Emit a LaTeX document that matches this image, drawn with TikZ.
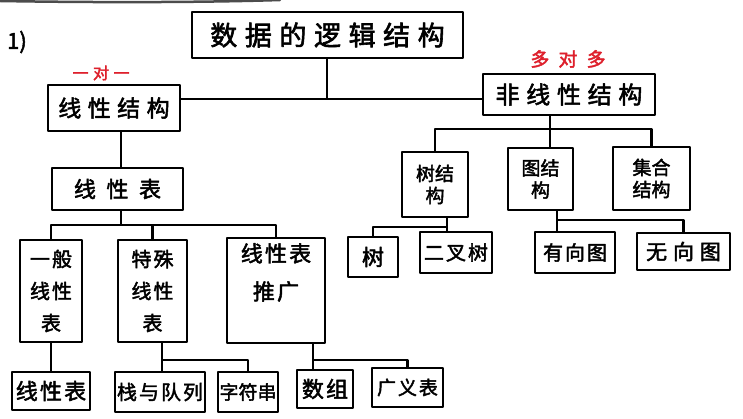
\documentclass[tikz,border=0pt]{standalone}
\usepackage{fontspec}
\newfontfamily\cjk[FakeBold=2.2]{Noto Sans CJK SC}
\newfontfamily\cjks[FakeBold=2.2,LetterSpace=10]{Noto Sans CJK SC}
\newfontfamily\cjkm[FakeBold=2.2,LetterSpace=28]{Noto Sans CJK SC}
\newfontfamily\cjkl[FakeBold=2.2,LetterSpace=48]{Noto Sans CJK SC}
\definecolor{penred}{RGB}{222,32,44}
\newcommand\fs[2]{\fontsize{#1}{#2}\selectfont}
\tikzset{
  every picture/.style={x=1pt,y=-1pt},
  box/.style={draw=black, line width=2.3pt, inner sep=0pt, align=center,
              line join=round, text=black},
  conn/.style={draw=black, line width=2.3pt, line join=round},
  note/.style={text=penred, inner sep=0pt},
}
\begin{document}
\begin{tikzpicture}
\useasboundingbox (0,0) rectangle (743,419);
\fill[white] (0,0) rectangle (743,419);
% page edge shadow along the top
\draw[black!70, line width=2.5pt, line cap=round] (0,1) .. controls (120,3) and (220,2) .. (280,0);

% item number
\node[inner sep=0pt, font=\cjk\fs{22}{22}] (num) at (17,42) {1)};

% root
\node[box, minimum width=271pt, minimum height=46pt, font=\cjkm\fs{27}{27}] (root) at (327.5,35) {数据的逻辑结构};

% first level
\node[box, minimum width=132pt, minimum height=46pt, font=\cjkm\fs{23}{23}] (lin) at (114,108) {线性结构};
\node[box, minimum width=172pt, minimum height=41pt, font=\cjkm\fs{24}{24}] (nonlin) at (569,94.5) {非线性结构};
\node[note, font=\cjkm\fs{16}{16}] (linnote) at (101,73) {一对一};
\node[note, font=\cjkl\fs{19}{19}] (nonlinnote) at (568,59) {多对多};

% linear branch
\node[box, minimum width=131pt, minimum height=42pt, font=\cjkl\fs{22}{22}] (list) at (117.5,189) {线性表};
\node[box, minimum width=62pt, minimum height=102pt, font=\cjks\fs{20}{32}] (general) at (51,291) {一般\\线性\\表};
\node[box, minimum width=69pt, minimum height=102pt, font=\cjks\fs{20}{32}] (special) at (152.5,291) {特殊\\线性\\表};
\node[box, minimum width=98pt, minimum height=105pt, font=\cjks\fs{22}{38}] (ext) at (276,290.5) {线性表\\推广\\\mbox{}};

\node[box, minimum width=78pt, minimum height=38pt, font=\cjks\fs{22}{22}] (leaf) at (51,391) {线性表};
\node[box, minimum width=90pt, minimum height=40pt, font=\cjks\fs{20}{20}] (stack) at (160,392) {栈与队列};
\node[box, minimum width=60pt, minimum height=40pt, font=\cjk\fs{19}{19}] (string) at (248,392) {字符串};
\node[box, minimum width=56pt, minimum height=38pt, font=\cjks\fs{22}{22}] (array) at (325,389) {数组};
\node[box, minimum width=71pt, minimum height=39pt, font=\cjks\fs{19}{19}] (glist) at (407.5,387.5) {广义表};

% non-linear branch
\node[box, minimum width=66pt, minimum height=65pt, font=\cjk\fs{19}{22}] (tree) at (435,184.5) {树结\\构};
\node[box, minimum width=65pt, minimum height=62pt, font=\cjk\fs{19}{22}] (graph) at (540.5,179) {图结\\构};
\node[box, minimum width=77pt, minimum height=63pt, font=\cjk\fs{19}{22}] (set) at (651.5,178.5) {集合\\结构};

\node[box, minimum width=50pt, minimum height=40pt, font=\cjk\fs{22}{22}] (t1) at (373,257) {树};
\node[box, minimum width=72pt, minimum height=41pt, font=\cjks\fs{20}{20}] (t2) at (456,252.5) {二叉树};
\node[box, minimum width=80pt, minimum height=41pt, font=\cjks\fs{20}{20}] (g1) at (575,252.5) {有向图};
\node[box, minimum width=93pt, minimum height=37pt, font=\cjkm\fs{21}{21}] (g2) at (683.5,251.5) {无向图};

% junctions of the tree lines
\coordinate (j0) at (327,99);
\coordinate (j1) at (550,129);
\coordinate (j2) at (121,225);
\coordinate (j3) at (162,360);
\coordinate (j4) at (313,360);
\coordinate (j5) at (447,227);
\coordinate (j6) at (557,220);

% root to first level
\draw[conn] (root.south -| j0) -- (j0);
\draw[conn] (lin.east |- j0) -- (nonlin.west |- j0);

% linear branch
\draw[conn] (lin.south -| j2) -- (list.north -| j2);
\draw[conn] (list.south -| j2) -- (j2);
\draw[conn] (general.north) -- (general.north |- j2) -- (ext.north |- j2) -- (ext.north);
\draw[conn] (special.north |- j2) -- (special.north);
\draw[conn] (general.south) -- (leaf.north);
\draw[conn] (special.south -| j3) -- (stack.north -| j3);
\draw[conn] (j3) -- (string.north |- j3) -- (string.north);
\draw[conn] (ext.south -| j4) -- (array.north -| j4);
\draw[conn] (j4) -- (glist.north |- j4) -- (glist.north);

% non-linear branch
\draw[conn] (nonlin.south -| j1) -- (graph.north -| j1);
\draw[conn] (tree.north) -- (tree.north |- j1) -- (set.north |- j1) -- (set.north);
\draw[conn] (tree.south -| j5) -- (t2.north -| j5);
\draw[conn] (j5) -- (t1.north |- j5) -- (t1.north);
\draw[conn] (graph.south -| j6) -- (g1.north -| j6);
\draw[conn] (j6) -- (g2.north |- j6) -- (g2.north);
\end{tikzpicture}
\end{document}
